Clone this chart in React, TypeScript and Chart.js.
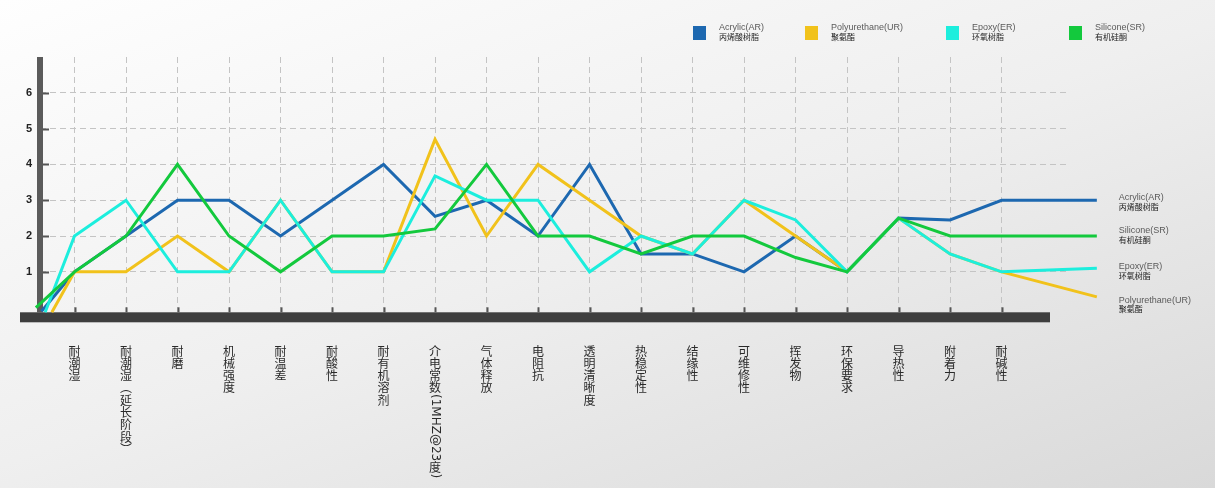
import React, { useEffect, useRef } from 'react';
import { Chart, registerables } from 'chart.js';
Chart.register(...registerables);

// ---------- data ----------
const categories = [
  '耐潮湿', '耐潮湿（延长阶段）', '耐磨', '机械强度', '耐温差', '耐酸性', '耐有机溶剂',
  '介电常数(1MHZ@23度)', '气体释放', '电阻抗', '透明清晰度', '热稳定性', '结缘性',
  '可维修性', '挥发物', '环保要求', '导热性', '附着力', '耐碱性',
];
const seriesNames = ['Acrylic(AR)', 'Polyurethane(UR)', 'Epoxy(ER)', 'Silicone(SR)'];
const seriesNamesZh = ['丙烯酸树脂', '聚氨酯', '环氧树脂', '有机硅酮'];

const acrylic = [1, 2, 3, 3, 2, 3, 4, 2.55, 3, 2, 4, 1.5, 1.5, 1, 2, 1, 2.5, 2.45, 3];
const polyurethane = [1, 1, 2, 1, 3, 1, 1, 4.7, 2, 4, 3, 2, 1.5, 3, 2, 1, 2.5, 1.5, 1];
const epoxy = [2, 3, 1, 1, 3, 1, 1, 3.68, 3, 3, 1, 2, 1.5, 3, 2.45, 1, 2.5, 1.5, 1];
const silicone = [1, 2, 4, 2, 1, 2, 2, 2.2, 4, 2, 2, 1.5, 2, 2, 1.4, 1, 2.5, 2, 2];

// lead-in / tail points (x in category units)
const startX = [-0.64, -0.44, -0.57, -0.75];
const startY = [-0.1, -0.13, -0.13, 0];
const endX = 19.85;
const endY = [3, 0.3, 1.1, 2];

const yTicks = [1, 2, 3, 4, 5, 6];

// ---------- styles ----------
const colors = ['#1d68b0', '#f1c21b', '#1ceedd', '#13c93d'];
const drawOrder = [3, 2, 1, 0];
const endLabelDy = [0, 6, 1, -3];
const legendX = [693, 805, 946, 1069];
const LATIN = '"Liberation Sans", Arial, sans-serif';
const CJK = '"Noto Sans CJK SC", sans-serif';

const seriesValues = [acrylic, polyurethane, epoxy, silicone];

function drawVertical(ctx: CanvasRenderingContext2D, text: string, cx: number, top: number) {
  const pitch = 12.3;
  let y = top;
  const mapped = text.replace(/（/g, '︵').replace(/）/g, '︶');
  const runs = mapped.match(/[\x20-\x7e]+|[^\x20-\x7e]/g) || [];
  for (const r of runs) {
    if (/^[\x20-\x7e]+$/.test(r)) {
      ctx.font = '12px "DejaVu Sans", sans-serif';
      const w = ctx.measureText(r).width;
      ctx.save();
      ctx.translate(cx, y);
      ctx.rotate(Math.PI / 2);
      ctx.textAlign = 'left';
      ctx.textBaseline = 'middle';
      ctx.fillText(r, 0, 0);
      ctx.restore();
      y += w;
    } else {
      ctx.font = '12px ' + CJK;
      ctx.textAlign = 'center';
      ctx.textBaseline = 'middle';
      ctx.fillText(r, cx, y + pitch / 2);
      y += pitch;
    }
  }
}

const decor = {
  id: 'decor',
  beforeDatasetsDraw(chart: any) {
    const { ctx, chartArea, scales } = chart;
    const xs = scales.x;
    const ys = scales.y;
    ctx.save();
    ctx.fillStyle = '#5b5b5b';
    ctx.fillRect(chartArea.left - 3, chartArea.top, 6, chartArea.bottom - chartArea.top);
    ctx.fillStyle = '#3e3e3e';
    ctx.fillRect(20, chartArea.bottom, chartArea.right - 18 - 20, 10);
    ctx.strokeStyle = '#555';
    ctx.lineWidth = 2;
    yTicks.forEach((v) => {
      const y = Math.round(ys.getPixelForValue(v)) + 0.5;
      ctx.beginPath();
      ctx.moveTo(chartArea.left + 3, y);
      ctx.lineTo(chartArea.left + 9, y);
      ctx.stroke();
    });
    categories.forEach((_, i) => {
      const x = Math.round(xs.getPixelForValue(i)) + 0.5;
      ctx.beginPath();
      ctx.moveTo(x, chartArea.bottom - 5);
      ctx.lineTo(x, chartArea.bottom);
      ctx.stroke();
    });
    ctx.restore();
  },
  afterDraw(chart: any) {
    const { ctx, chartArea, scales } = chart;
    const xs = scales.x;
    const ys = scales.y;
    ctx.save();
    // category labels, vertical
    ctx.fillStyle = '#2a2a2a';
    categories.forEach((c, i) => {
      drawVertical(ctx, c, xs.getPixelForValue(i), chartArea.bottom + 32.5);
    });
    // end labels
    seriesNames.forEach((n, i) => {
      const x = xs.getPixelForValue(endX) + 22;
      const y = ys.getPixelForValue(endY[i]) + endLabelDy[i];
      ctx.textAlign = 'left';
      ctx.textBaseline = 'alphabetic';
      ctx.font = '9px ' + LATIN;
      ctx.fillStyle = '#5a5a5a';
      ctx.fillText(n, x, y);
      ctx.font = '8px ' + CJK;
      ctx.fillStyle = '#222';
      ctx.fillText(seriesNamesZh[i], x, y + 9.5);
    });
    // legend
    seriesNames.forEach((n, i) => {
      const x = legendX[i];
      ctx.fillStyle = colors[i];
      ctx.fillRect(x, 26, 13, 14);
      ctx.textAlign = 'left';
      ctx.textBaseline = 'alphabetic';
      ctx.font = '9px ' + LATIN;
      ctx.fillStyle = '#5a5a5a';
      ctx.fillText(n, x + 26, 30);
      ctx.font = '8px ' + CJK;
      ctx.fillStyle = '#222';
      ctx.fillText(seriesNamesZh[i], x + 26, 39.5);
    });
    ctx.restore();
  },
};

export default function App() {
  const ref = useRef<HTMLCanvasElement>(null);
  useEffect(() => {
    if (!ref.current) return;
    const datasets = seriesValues.map((vals, i) => ({
      label: seriesNames[i],
      data: [
        { x: startX[i], y: startY[i] },
        ...vals.map((v, j) => ({ x: j, y: v })),
        { x: endX, y: endY[i] },
      ],
      borderColor: colors[i],
      backgroundColor: colors[i],
      borderWidth: 3,
      pointRadius: 0,
      tension: 0,
      fill: false,
      clip: false as any,
      order: drawOrder[i],
    }));
    const chart = new Chart(ref.current, {
      type: 'line',
      data: { datasets },
      plugins: [decor],
      options: {
        animation: false,
        responsive: false,
        layout: { padding: { left: 0, top: 57, right: 147, bottom: 0 } },
        plugins: { legend: { display: false }, tooltip: { enabled: false } },
        scales: {
          x: {
            type: 'linear',
            min: -0.67,
            max: 19.29,
            afterBuildTicks: (s: any) => {
              s.ticks = categories.map((_, i) => ({ value: i }));
            },
            afterFit: (s: any) => {
              s.height = 175.7;
            },
            ticks: { display: false, autoSkip: false },
            grid: { color: '#c4c4c4', lineWidth: 1, drawTicks: false },
            border: { display: false, dash: [6, 4] },
          },
          y: {
            type: 'linear',
            min: -0.13,
            max: 7,
            afterBuildTicks: (s: any) => {
              s.ticks = yTicks.map((v) => ({ value: v }));
            },
            afterFit: (s: any) => {
              s.width = 40;
            },
            ticks: {
              padding: 8,
              color: '#222',
              font: { size: 11, weight: 'bold', family: LATIN },
            },
            grid: { color: '#c4c4c4', lineWidth: 1, drawTicks: false },
            border: { display: false, dash: [6, 4] },
          },
        },
      } as any,
    });
    return () => chart.destroy();
  }, []);
  return (
    <div
      style={{
        position: 'fixed',
        left: 0,
        top: 0,
        width: 1215,
        height: 488,
        background: 'linear-gradient(160deg, #fefefe 0%, #efefef 50%, #d9d9d9 100%)',
      }}
    >
      <canvas ref={ref} width={1215} height={488} style={{ display: 'block' }} />
    </div>
  );
}
